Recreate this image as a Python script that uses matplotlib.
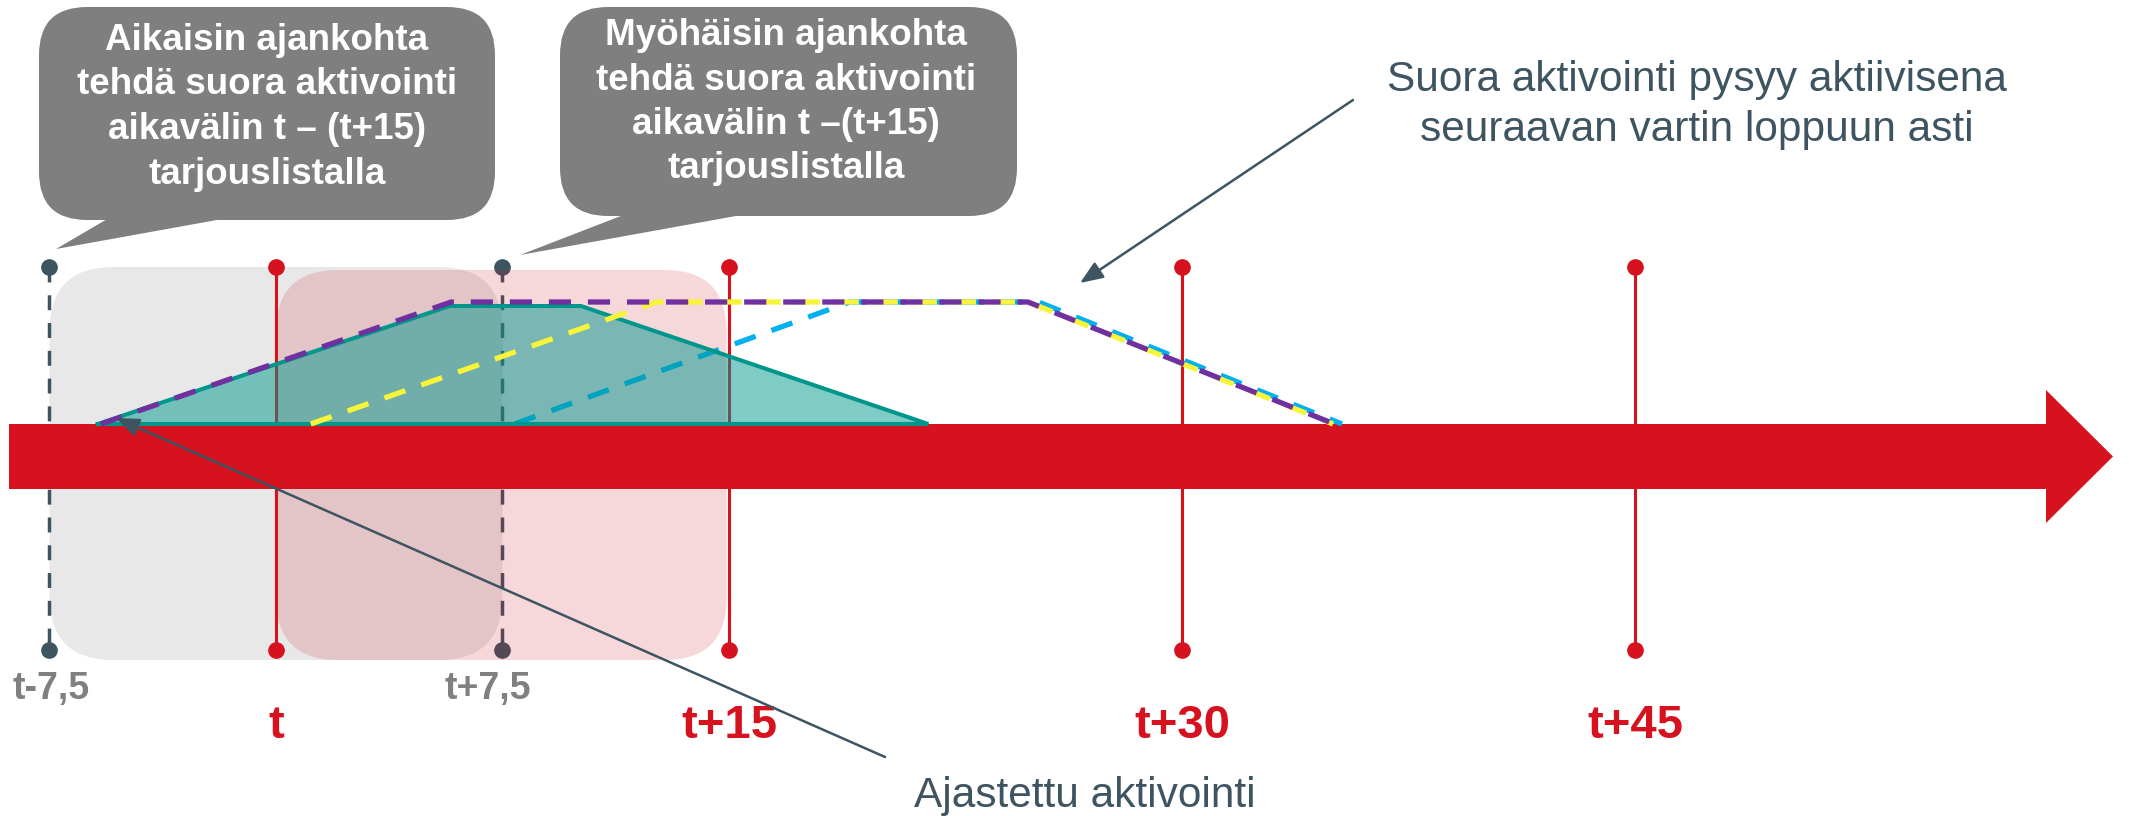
import matplotlib
matplotlib.use('Agg')
import matplotlib.pyplot as plt
from matplotlib.patches import FancyBboxPatch, Polygon

# ---------------- data ----------------
tick_minutes = [0, 15, 30, 45]
tick_labels = ['t', 't+15', 't+30', 't+45']
half_minutes = [-7.5, 7.5]
half_labels = ['t-7,5', 't+7,5']

# Scheduled activation (trapezoid): time [min], level [share of full activation]
sched_time = [-5.9, 5.75, 10.1, 21.6]
sched_level = [0.0, 0.967, 0.967, 0.0]

# Direct activation profiles
early_time = [-5.8, 5.8, 24.9, 35.05]    # purple
early_level = [0, 1, 1, 0]
mid_time = [1.15, 12.6, 24.9, 35.0]      # yellow
mid_level = [0, 1, 1, 0]
late_time = [7.9, 19.0, 25.25, 35.3]     # blue
late_level = [0, 1, 1, 0]

# time windows
early_window = (-7.5, 7.5)   # grey
offer_window = (0, 15)       # pink

bubble1_lines = ['Aikaisin ajankohta', 'tehdä suora aktivointi',
                 'aikavälin t – (t+15)', 'tarjouslistalla']
bubble2_lines = ['Myöhäisin ajankohta', 'tehdä suora aktivointi',
                 'aikavälin t –(t+15)', 'tarjouslistalla']
note_lines = ['Suora aktivointi pysyy aktiivisena', 'seuraavan vartin loppuun asti']
sched_label = 'Ajastettu aktivointi'

# ---------------- style / layout ----------------
RED = '#D6121F'
SLATE = '#3E5461'
GREYTXT = '#808080'
BUBBLE = '#7F7F7F'
FONT = 'Liberation Sans'

W, H = 2129, 816
X0, PXM = 276, 30.2      # pixel of t, pixels per minute
Y0, PXL = 424, 122       # pixel of level 0, pixels per level unit


def mins(xpx):
    return (xpx - X0) / PXM


def lvl(ypx):
    return (Y0 - ypx) / PXL


fig = plt.figure(figsize=(W / 100, H / 100), dpi=100)
ax = fig.add_axes([0, 0, 1, 1])
ax.set_xlim(mins(0), mins(W))
ax.set_ylim(lvl(H), lvl(0))
ax.axis('off')

asp = PXM / PXL

# background windows
gb = FancyBboxPatch((early_window[0], lvl(660)), early_window[1] - early_window[0],
                    lvl(267) - lvl(660),
                    boxstyle=f'round,pad=0,rounding_size={64 / PXM}',
                    mutation_aspect=asp, fc='#E8E8E8', ec='none', zorder=1)
ax.add_patch(gb)
pb = FancyBboxPatch((offer_window[0], lvl(660)), offer_window[1] - offer_window[0] - 0.08,
                    lvl(270) - lvl(660),
                    boxstyle=f'round,pad=0,rounding_size={62 / PXM}',
                    mutation_aspect=asp, fc='#CB1325', alpha=0.17, ec='none', zorder=3)
ax.add_patch(pb)

# vertical time lines
top, bot = lvl(267), lvl(650)
for m in tick_minutes:
    ax.plot([m, m], [top, bot], color=RED, lw=2.2, marker='o', ms=11,
            solid_capstyle='butt', zorder=2)
for m in half_minutes:
    ax.plot([m, m], [top, bot], color=SLATE, lw=2.5, ls=(0, (4.3, 3.7)),
            marker='o', ms=11, dash_capstyle='butt', zorder=2)

# timeline arrow
arrow_pts = [(mins(9), lvl(424)), (mins(2046), lvl(424)), (mins(2046), lvl(390)),
             (mins(2113), lvl(456.5)), (mins(2046), lvl(523)), (mins(2046), lvl(489)),
             (mins(9), lvl(489))]
ax.add_patch(Polygon(arrow_pts, closed=True, fc=RED, ec='none', zorder=3.5))

# profiles
dash = (0, (4.2, 3.2))
ax.plot(late_time, late_level, color='#00B0F0', lw=3.8, ls=dash,
        dash_capstyle='butt', zorder=4)
ax.fill(sched_time, sched_level, fc='#00998F', alpha=0.5, ec='none', zorder=5)
ax.plot(sched_time + [sched_time[0]], sched_level + [sched_level[0]],
        color='#00968C', lw=2.9, zorder=5.5, solid_joinstyle='miter')
ax.plot(mid_time, mid_level, color='#F7F43A', lw=3.8, ls=dash,
        dash_capstyle='butt', zorder=6)
ax.plot(early_time, early_level, color='#7030A0', lw=3.8, ls=dash,
        dash_capstyle='butt', zorder=7)

# time labels
for m, lab in zip(tick_minutes, tick_labels):
    ax.text(m, lvl(738), lab, color=RED, fontsize=34, fontweight='bold',
            family=FONT, ha='center', va='baseline', zorder=10)
half_label_shift_px = [2, -15]
for m, lab, dx in zip(half_minutes, half_labels, half_label_shift_px):
    ax.text(m + dx / PXM, lvl(699), lab, color=GREYTXT, fontsize=27, fontweight='bold',
            family=FONT, ha='center', va='baseline', zorder=10)

# ---------------- overlay (pixel coordinates) ----------------
ov = fig.add_axes([0, 0, 1, 1])
ov.set_zorder(2)
ov.set_xlim(0, W)
ov.set_ylim(H, 0)
ov.axis('off')


def bubble(x0, y0, w, h, tail, lines, cx, baselines):
    ov.add_patch(FancyBboxPatch((x0, y0), w, h, boxstyle='round,pad=0,rounding_size=48',
                                fc=BUBBLE, ec='none'))
    ov.add_patch(Polygon(tail, closed=True, fc=BUBBLE, ec='none'))
    for line, yb in zip(lines, baselines):
        ov.text(cx, yb, line, color='white', fontsize=26.5, fontweight='bold',
                family=FONT, ha='center', va='baseline')


bubble(39, 7, 456, 213, [(109, 218), (228, 218), (56, 249)], bubble1_lines, 267,
       [50, 94.5, 139, 183.5])
bubble(560, 7, 457, 209, [(626, 214), (747, 214), (520, 255)], bubble2_lines, 786,
       [45, 89.5, 134, 178.5])

for line, yb in zip(note_lines, [90.5, 141.5]):
    ov.text(1697, yb, line, color=SLATE, fontsize=30.5, family=FONT,
            ha='center', va='baseline')
ov.text(1085, 807, sched_label, color=SLATE, fontsize=30.5, family=FONT,
        ha='center', va='baseline')

aprops = dict(arrowstyle='-|>,head_length=0.7,head_width=0.28', color=SLATE, lw=1.8,
              shrinkA=0, shrinkB=0, mutation_scale=20)
ov.annotate('', xy=(1080, 283), xytext=(1353, 100), arrowprops=aprops)
ov.annotate('', xy=(116, 418), xytext=(885, 757), arrowprops=aprops)

fig.savefig('out.png', dpi=100)
